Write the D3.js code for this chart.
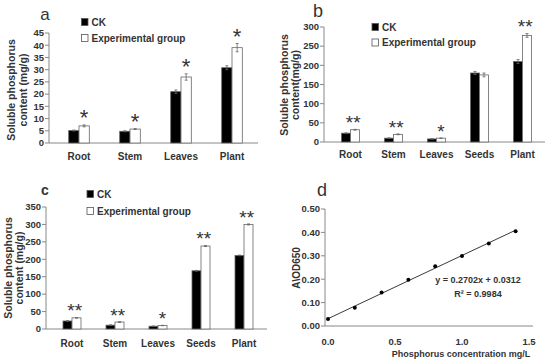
<!DOCTYPE html>
<html>
<head>
<meta charset="utf-8">
<script src="https://d3js.org/d3.v7.min.js"></script>
<style>
  body { margin: 0; background: #fff; }
  svg { display: block; font-family: "Liberation Sans", Arial, sans-serif; }
  text { fill: #333; }
  .tick { font-family: "Liberation Sans Narrow", "Arial Narrow", "Liberation Sans", sans-serif; }
</style>
</head>
<body>
<svg width="550" height="363"></svg>
<script>

// ---- data ----
var catsA = ["Root", "Stem", "Leaves", "Plant"];
var ckA = [5.1, 4.8, 21, 30.8];
var expA = [7, 5.7, 27, 39];
var ckErrA = [0.2, 0.2, 0.7, 0.8];
var expErrA = [0.4, 0.2, 1.3, 1.7];
var sigA = ["*", "*", "*", "*"];
var ticksA = [0, 5, 10, 15, 20, 25, 30, 35, 40, 45];

var catsB = ["Root", "Stem", "Leaves", "Seeds", "Plant"];
var ckB = [23, 10, 8, 180, 210];
var expB = [32, 20, 10, 175, 278];
var ckErrB = [1, 1, 0.5, 4, 5];
var expErrB = [1, 1, 0.5, 5, 5];
var sigB = ["**", "**", "*", "", "**"];
var ticksB = [0, 50, 100, 150, 200, 250, 300];

var catsC = ["Root", "Stem", "Leaves", "Seeds", "Plant"];
var ckC = [23, 11, 8, 167, 211];
var expC = [32, 20, 10, 238, 300];
var ckErrC = [1, 1, 0.5, 1, 1];
var expErrC = [1, 1, 0.5, 1.5, 1.5];
var sigC = ["**", "**", "*", "**", "**"];
var ticksC = [0, 50, 100, 150, 200, 250, 300, 350];

var concD = [0, 0.2, 0.4, 0.6, 0.8, 1.0, 1.2, 1.4];
var odD = [0.03, 0.078, 0.143, 0.198, 0.255, 0.299, 0.353, 0.405];
var slopeD = 0.2702, interceptD = 0.0312;
var xTicksD = [0, 0.5, 1.0, 1.5];
var yTicksD = [0, 0.1, 0.2, 0.3, 0.4, 0.5];

var svg = d3.select("svg");
var axisColor = "#888";

// bar panel drawer
function barPanel(o) {
  var g = svg.append("g");
  var y = d3.scaleLinear().domain([0, o.ymax]).range([o.y0, o.y1]);
  var x = d3.scaleBand().domain(o.cats).range(o.xr);

  // y axis
  g.append("line").attr("x1", o.ax).attr("x2", o.ax).attr("y1", o.y0).attr("y2", o.y1)
    .attr("stroke", axisColor);
  o.ticks.forEach(function(t) {
    g.append("line").attr("x1", o.ax - 4).attr("x2", o.ax).attr("y1", y(t)).attr("y2", y(t))
      .attr("stroke", axisColor);
    g.append("text").attr("class", "tick").attr("x", o.ax - 5).attr("y", y(t) + 3.3).attr("text-anchor", "end")
      .attr("font-size", 9.5).attr("font-weight", "bold").text(t);
  });
  // x axis line
  g.append("line").attr("x1", o.ax).attr("x2", o.axEnd).attr("y1", o.y0).attr("y2", o.y0)
    .attr("stroke", axisColor);

  o.cats.forEach(function(c, i) {
    var cx = x(c) + x.bandwidth() / 2;
    var series = [[o.ck[i], o.ckErr[i], "#000", cx - o.bw], [o.exp[i], o.expErr[i], "#fff", cx]];
    series.forEach(function(s) {
      g.append("rect").attr("x", s[3]).attr("y", y(s[0])).attr("width", o.bw)
        .attr("height", o.y0 - y(s[0])).attr("fill", s[2]).attr("stroke", "#666").attr("stroke-width", 0.8);
      var ex = s[3] + o.bw / 2;
      g.append("line").attr("x1", ex).attr("x2", ex).attr("y1", y(s[0] - s[1])).attr("y2", y(s[0] + s[1]))
        .attr("stroke", "#666").attr("stroke-width", 0.8);
      [s[0] - s[1], s[0] + s[1]].forEach(function(v) {
        g.append("line").attr("x1", ex - 1.5).attr("x2", ex + 1.5).attr("y1", y(v)).attr("y2", y(v))
          .attr("stroke", "#666").attr("stroke-width", 0.8);
      });
    });
    // category label
    g.append("text").attr("x", cx).attr("y", o.labY + 3.5).attr("text-anchor", "middle")
      .attr("font-size", 10).attr("font-weight", "bold").text(c);
    // significance stars
    if (o.sig[i]) {
      var sx = o.sig[i].length > 1 ? cx + o.bw * 0.3 : cx + o.bw / 2;
      var sy = y(o.exp[i] + o.expErr[i]) - o.starOff;
      g.append("text").attr("x", sx).attr("y", sy + 0.57 * o.starSize).attr("text-anchor", "middle")
        .attr("font-size", o.starSize).attr("fill", "#444").text(o.sig[i]);
    }
  });

  // panel letter
  g.append("text").attr("x", o.letter[0]).attr("y", o.letter[1] + 0.36 * o.letter[3])
    .attr("text-anchor", "middle").attr("font-size", o.letter[3])
    .attr("font-weight", o.letter[4] || "normal").attr("fill", "#111").text(o.letter[2]);

  // legend
  [["CK", "#000"], ["Experimental group", "#fff"]].forEach(function(l, i) {
    var ly = o.leg[1] + i * o.leg[2];
    g.append("rect").attr("x", o.leg[0]).attr("y", ly - 3.5).attr("width", 6.5).attr("height", 7)
      .attr("fill", l[1]).attr("stroke", "#555").attr("stroke-width", 0.8);
    g.append("text").attr("x", o.leg[0] + 10).attr("y", ly + 3.5)
      .attr("font-size", 10).attr("font-weight", "bold").text(l[0]);
  });

  // y title (two lines)
  o.titles.forEach(function(t) {
    g.append("text").attr("transform", "translate(" + t[0] + "," + o.titleY + ") rotate(-90)")
      .attr("text-anchor", "middle").attr("font-size", 10.5).attr("font-weight", "bold").text(t[1]);
  });
}

barPanel({
  cats: catsA, ck: ckA, exp: expA, ckErr: ckErrA, expErr: expErrA, sig: sigA, ticks: ticksA,
  ymax: 45, y0: 143, y1: 33, ax: 49, axEnd: 258, xr: [53.5, 257.5], bw: 10.3, labY: 156,
  starOff: 12, starSize: 22, letter: [45, 14, "a", 17],
  leg: [81.5, 22, 16], titleY: 90,
  titles: [[15, "Soluble phosphorus"], [26.5, "content (mg/g)"]]
});

barPanel({
  cats: catsB, ck: ckB, exp: expB, ckErr: ckErrB, expErr: expErrB, sig: sigB, ticks: ticksB,
  ymax: 300, y0: 142, y1: 27, ax: 324, axEnd: 545, xr: [329, 544], bw: 9, labY: 154,
  starOff: 11, starSize: 19, letter: [318, 11, "b", 18],
  leg: [372, 27, 15.5], titleY: 85,
  titles: [[288, "Soluble phosphorus"], [299, "content(mg/g)"]]
});

barPanel({
  cats: catsC, ck: ckC, exp: expC, ckErr: ckErrC, expErr: expErrC, sig: sigC, ticks: ticksC,
  ymax: 350, y0: 329, y1: 207, ax: 46, axEnd: 267, xr: [50.5, 265.5], bw: 9, labY: 343,
  starOff: 11, starSize: 19, letter: [45, 190, "c", 14, "bold"],
  leg: [87, 194, 17], titleY: 268,
  titles: [[11.5, "Soluble phosphorus"], [22.5, "content (mg/g)"]]
});

// ---- panel d: standard curve ----
(function() {
  var g = svg.append("g");
  var x = d3.scaleLinear().domain([0, 1.5]).range([328, 529]);
  var y = d3.scaleLinear().domain([0, 0.5]).range([326, 209]);
  var ax = 325;

  g.append("line").attr("x1", ax).attr("x2", ax).attr("y1", y(0)).attr("y2", y(0.5)).attr("stroke", axisColor);
  yTicksD.forEach(function(t) {
    g.append("line").attr("x1", ax - 4).attr("x2", ax).attr("y1", y(t)).attr("y2", y(t)).attr("stroke", axisColor);
    g.append("text").attr("class", "tick").attr("x", ax - 5).attr("y", y(t) + 3.3).attr("text-anchor", "end")
      .attr("font-size", 9.5).attr("font-weight", "bold").text(d3.format(".2f")(t));
  });
  g.append("line").attr("x1", ax).attr("x2", 533).attr("y1", y(0)).attr("y2", y(0)).attr("stroke", axisColor);
  xTicksD.forEach(function(t) {
    g.append("text").attr("class", "tick").attr("x", x(t)).attr("y", 342 + 3.3).attr("text-anchor", "middle")
      .attr("font-size", 9.5).attr("font-weight", "bold").text(d3.format(".1f")(t));
  });

  // fit line
  var x0 = concD[0], x1 = concD[concD.length - 1];
  g.append("line").attr("x1", x(x0)).attr("y1", y(slopeD * x0 + interceptD))
    .attr("x2", x(x1)).attr("y2", y(slopeD * x1 + interceptD))
    .attr("stroke", "#222").attr("stroke-width", 0.9);
  concD.forEach(function(c, i) {
    g.append("circle").attr("cx", x(c)).attr("cy", y(odD[i])).attr("r", 2).attr("fill", "#000");
  });

  g.append("text").attr("x", 478).attr("y", 280 + 3.2).attr("text-anchor", "middle")
    .attr("font-size", 9).attr("font-weight", "bold").text("y = 0.2702x + 0.0312");
  g.append("text").attr("x", 478).attr("y", 294 + 3.2).attr("text-anchor", "middle")
    .attr("font-size", 9).attr("font-weight", "bold").text("R\u00b2 = 0.9984");

  g.append("text").attr("x", 461).attr("y", 354 + 3.2).attr("text-anchor", "middle")
    .attr("font-size", 9).attr("font-weight", "bold").text("Phosphorus concentration mg/L");
  g.append("text").attr("transform", "translate(300,268) rotate(-90)")
    .attr("text-anchor", "middle").attr("font-size", 10).attr("font-weight", "bold").text("A\\OD650");

  g.append("text").attr("x", 322).attr("y", 189 + 6.5).attr("text-anchor", "middle")
    .attr("font-size", 18).attr("fill", "#111").text("d");
})();

</script>
</body>
</html>
